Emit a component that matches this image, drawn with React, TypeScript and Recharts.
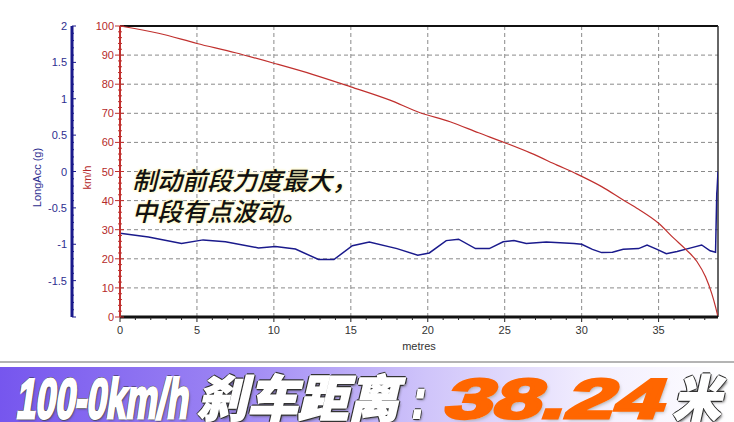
import React, { useLayoutEffect, useRef, useState } from 'react';
import { LineChart, Line, XAxis, YAxis, ReferenceLine, Label } from 'recharts';

// speed trace (km/h vs metres)
const speedDist = [0, 2.5, 5, 7.5, 10, 12.5, 15, 17.5, 19.5, 21.45, 23.3, 25, 26.7, 28.4, 29.7, 31.3, 32.7, 33.7, 35, 36, 36.75, 37.5, 38.05, 38.45, 38.7, 38.86];
const speedKmh = [100, 97.5, 94, 90.8, 87.2, 83.4, 79.1, 74.6, 70.2, 67.1, 63.3, 59.9, 56.3, 52.2, 49.1, 44.8, 40.2, 37, 32.2, 27, 23.3, 19, 13.8, 8.1, 3.5, 0];

// longitudinal acceleration (g vs metres)
const accDist = [0, 1.85, 4, 5.4, 6.85, 9, 10.1, 11.4, 12.9, 13.9, 15.1, 16.2, 18, 19.35, 20.1, 21.2, 22, 23.1, 24, 24.9, 25.6, 26.4, 27.7, 29.5, 30, 30.7, 31.3, 32, 32.7, 33.7, 34.25, 34.9, 35.5, 36.2, 37.1, 37.8, 38.35, 38.7, 38.78, 38.8, 38.86];
const accG = [-0.85, -0.9, -0.99, -0.94, -0.965, -1.05, -1.03, -1.065, -1.21, -1.21, -1.02, -0.97, -1.06, -1.15, -1.12, -0.95, -0.93, -1.06, -1.06, -0.965, -0.95, -0.99, -0.97, -0.99, -1.0, -1.07, -1.115, -1.11, -1.07, -1.06, -1.01, -1.07, -1.13, -1.1, -1.05, -1.01, -1.09, -1.11, -0.3, -0.25, 0];

const xLabels = [0, 5, 10, 15, 20, 25, 30, 35];
const speedLabels = [0, 10, 20, 30, 40, 50, 60, 70, 80, 90, 100];
const accLabels = [-1.5, -1, -0.5, 0, 0.5, 1, 1.5, 2];
const xMax = 38.86;

const xTicks = Array.from({ length: 39 }, (_, i) => i);
const speedTicks = Array.from({ length: 51 }, (_, i) => i * 2);
const accTicks = Array.from({ length: 41 }, (_, i) => (i - 20) / 10);

const speedRows = speedDist.map((d, i) => ({ d, v: speedKmh[i] }));
const accRows = accDist.map((d, i) => ({ d, g: accG[i] }));

const RED = '#c0302e';
const BLUE = '#1a1a8c';
// ids sort so that km/h sits next to the plot and LongAcc outside it
const SPEED_ID = 'a-kmh';
const ACC_ID = 'b-acc';

function SpeedTick({ x, y, payload }: any) {
  const v = payload.value;
  const major = speedLabels.includes(v);
  const ax = x + 6;
  return (
    <g>
      <line x1={ax - (major ? 5 : 2)} x2={ax + (major ? 4 : 2)} y1={y} y2={y} stroke={RED} />
      {major && (
        <text x={ax - 6} y={y} dy={4} textAnchor="end" fill="#b52a2a" fontSize={11}>
          {v}
        </text>
      )}
    </g>
  );
}

function AccTick({ x, y, payload }: any) {
  const v = payload.value;
  const major = Math.abs(v * 2 - Math.round(v * 2)) < 1e-6;
  const labelled = accLabels.some((a) => Math.abs(a - v) < 1e-6);
  const ax = x + 6;
  return (
    <g>
      <line x1={ax} x2={ax + (major ? 4 : 2)} y1={y} y2={y} stroke={BLUE} />
      {labelled && (
        <text x={ax - 5} y={y} dy={4} textAnchor="end" fill="#2e2e8f" fontSize={11}>
          {v}
        </text>
      )}
    </g>
  );
}

function DistTick({ x, y, payload }: any) {
  const v = payload.value;
  const major = xLabels.includes(v);
  const ay = y - 8;
  return (
    <g>
      <line x1={x} x2={x} y1={ay} y2={ay + (major ? 5 : 3)} stroke="#222" />
      {major && (
        <text x={x} y={ay + 8} dy="0.85em" textAnchor="middle" fill="#333" fontSize={11}>
          {v}
        </text>
      )}
    </g>
  );
}

function AxisTitle({ viewBox, value, fill, dx }: any) {
  const cx = viewBox.x + dx;
  const cy = viewBox.y + viewBox.height / 2 + 6;
  return (
    <text x={cx} y={cy} transform={`rotate(-90, ${cx}, ${cy})`} textAnchor="middle" dominantBaseline="central" fill={fill} fontSize={11}>
      {value}
    </text>
  );
}

const outline = '1px 1px 0 #333, -1px -1px 0 #333, 1px -1px 0 #333, -1px 1px 0 #333, 0 2px 0 #333, 0 -2px 0 #333, 2px 0 0 #333, -2px 0 0 #333, 2px 2px 3px #444';

// banner text squeezed to the width it takes in the original
function FitText({ left, top, width, size, color, family, weight, shadow, stroke, children }: any) {
  const ref = useRef<HTMLSpanElement>(null);
  const [sx, setSx] = useState(1);
  useLayoutEffect(() => {
    if (ref.current && ref.current.offsetWidth > 0) setSx(width / ref.current.offsetWidth);
  }, [width]);
  return (
    <span
      ref={ref}
      style={{
        position: 'absolute',
        left,
        top,
        fontSize: size,
        lineHeight: 1,
        fontWeight: weight,
        fontFamily: family,
        color,
        whiteSpace: 'nowrap',
        transform: `scaleX(${sx}) skewX(-13deg)`,
        transformOrigin: '0 100%',
        textShadow: shadow,
        WebkitTextStroke: stroke,
      }}
    >
      {children}
    </span>
  );
}

const LAT = '"Liberation Sans", Arial, sans-serif';
const CJK = '"Noto Sans CJK SC", sans-serif';

export default function App() {
  return (
    <div style={{ position: 'absolute', left: 0, top: 0, width: 734, height: 422, background: '#fff', fontFamily: LAT, overflow: 'hidden' }}>
      <LineChart width={734} height={362} margin={{ top: 26, right: 16, left: 0, bottom: 0 }}>
        <XAxis
          dataKey="d"
          type="number"
          domain={[0, xMax]}
          ticks={xTicks}
          interval={0}
          tickSize={0}
          tickMargin={8}
          tick={<DistTick />}
          tickLine={false}
          axisLine={{ stroke: '#111', strokeWidth: 3 }}
          height={45}
          allowDataOverflow
        >
          <Label value="metres" position="insideBottom" offset={12} fill="#333" fontSize={11} />
        </XAxis>
        <YAxis
          yAxisId={SPEED_ID}
          type="number"
          domain={[0, 100]}
          ticks={speedTicks}
          interval={0}
          width={48}
          tickSize={0}
          tickMargin={6}
          tick={<SpeedTick />}
          tickLine={false}
          axisLine={{ stroke: RED, strokeWidth: 2 }}
        >
          <Label content={<AxisTitle value="km/h" fill="#b52a2a" dx={15} />} />
        </YAxis>
        <YAxis
          yAxisId={ACC_ID}
          type="number"
          domain={[-2, 2]}
          ticks={accTicks}
          interval={0}
          width={72}
          tickSize={0}
          tickMargin={6}
          tick={<AccTick />}
          tickLine={false}
          axisLine={{ stroke: BLUE, strokeWidth: 3 }}
        >
          <Label content={<AxisTitle value="LongAcc (g)" fill="#2e2e8f" dx={37} />} />
        </YAxis>

        {speedLabels.slice(1, -1).map((v) => (
          <ReferenceLine key={'h' + v} yAxisId={SPEED_ID} y={v} stroke="#8a8a8a" strokeDasharray="4 3" />
        ))}
        {xLabels.slice(1).map((v) => (
          <ReferenceLine key={'v' + v} yAxisId={SPEED_ID} x={v} stroke="#8a8a8a" strokeDasharray="4 3" />
        ))}
        <ReferenceLine yAxisId={SPEED_ID} y={100} stroke="#111" strokeWidth={2} />
        <ReferenceLine yAxisId={SPEED_ID} x={xMax} stroke="#333" strokeWidth={1.5} />

        <Line data={accRows} yAxisId={ACC_ID} dataKey="g" type="linear" stroke={BLUE} strokeWidth={1.5} dot={false} isAnimationActive={false} />
        <Line data={speedRows} yAxisId={SPEED_ID} dataKey="v" type="monotone" stroke={RED} strokeWidth={1.2} dot={false} isAnimationActive={false} />
      </LineChart>

      <div
        style={{
          position: 'absolute',
          left: 132,
          top: 164,
          fontFamily: CJK,
          fontSize: 25,
          lineHeight: '31px',
          fontStyle: 'italic',
          fontWeight: 500,
          color: '#111',
          textShadow: '0 0 3px #fff6b8, 0 0 3px #fff6b8, 0 0 2px #fffbe0',
          whiteSpace: 'nowrap',
        }}
      >
        <div>制动前段力度最大，</div>
        <div>中段有点波动。</div>
      </div>

      <div style={{ position: 'absolute', left: 0, top: 361, width: 734, height: 2, background: '#b4b4b4' }} />
      <div
        style={{
          position: 'absolute',
          left: 0,
          top: 367,
          width: 734,
          height: 55,
          overflow: 'hidden',
          background: 'linear-gradient(90deg, #7656ee 0%, #9a82f3 30%, #cfc4fa 58%, #f1edfe 80%, #ffffff 100%)',
        }}
      >
        <FitText left={14} top={4} width={172} size={56} weight={700} family={LAT} color="#fff" shadow={outline} stroke="3px #fff">
          100-0km/h
        </FitText>
        <FitText left={196} top={3} width={202} size={50} weight={900} family={CJK} color="#fff" shadow={outline} stroke="1.5px #fff">
          刹车距离
        </FitText>
        <FitText left={408} top={4} width={14} size={56} weight={700} family={LAT} color="#fff" shadow={outline} stroke="2px #fff">
          :
        </FitText>
        <FitText left={438} top={4} width={218} size={56} weight={700} family={LAT} color="#ff6600" shadow="1px 1px 0 #fff3e8, -1px -1px 0 #fff3e8, 2px 2px 3px #aaa" stroke="3px #ff6600">
          38.24
        </FitText>
        <FitText left={672} top={3} width={48} size={50} weight={900} family={CJK} color="#fff" shadow={outline} stroke="1.5px #fff">
          米
        </FitText>
      </div>
    </div>
  );
}
